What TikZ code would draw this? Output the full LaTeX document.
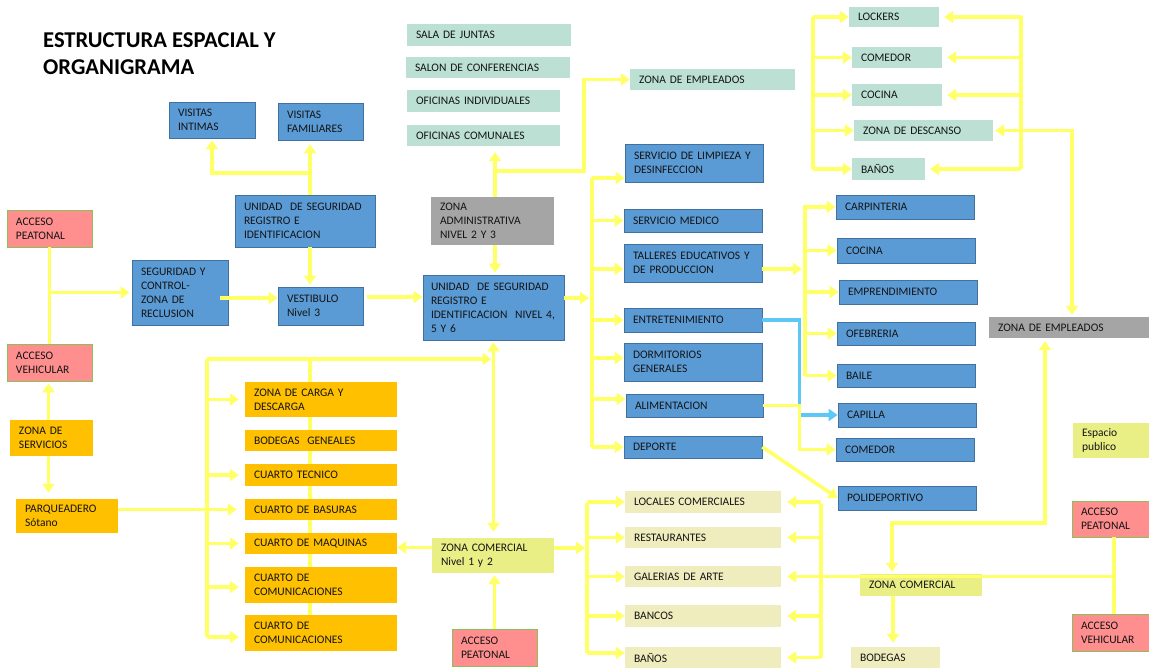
\documentclass[tikz,border=0pt]{standalone}
\usepackage{fontspec}
\setmainfont{Carlito}
\usetikzlibrary{arrows.meta,backgrounds}

\definecolor{blueF}{HTML}{5B9BD5}
\definecolor{blueD}{HTML}{41719C}
\definecolor{mintF}{HTML}{BCE0D4}
\definecolor{grayF}{HTML}{A5A5A5}
\definecolor{pinkF}{HTML}{FF8F8F}
\definecolor{pinkD}{HTML}{8CC05A}
\definecolor{orF}{HTML}{FFC000}
\definecolor{ygF}{HTML}{E9EF85}
\definecolor{beigeF}{HTML}{EFEDBE}
\definecolor{ylwL}{HTML}{FFFF66}
\definecolor{cyanL}{HTML}{5BC8F5}
\definecolor{txt}{HTML}{141414}

\begin{document}
\begin{tikzpicture}[x=1pt,y=-1pt,
    box/.style={rectangle,inner xsep=9pt,inner ysep=0pt,align=left,
      font=\fontsize{11.5}{14}\selectfont,text=txt},
    sz/.style 2 args={minimum width=#1,minimum height=#2,text width=#1-18},
    ylw/.style={draw=ylwL,line width=3.6pt},
    ya/.style={ylw,-{Triangle[length=9pt,width=12pt]},shorten >=2pt},
    yaa/.style={ylw,{Triangle[length=9pt,width=12pt]}-{Triangle[length=9pt,width=12pt]},
      shorten >=2pt,shorten <=2pt},
    ba/.style={draw=cyanL,line width=3.6pt,-{Triangle[length=9pt,width=12pt]}}]

  \useasboundingbox (0,0) rectangle (1149,669);

  \node[font=\fontsize{22.6}{27}\selectfont\bfseries,align=left,anchor=west,
    inner sep=0pt,text=black] (ttl) at (43,54) {ESTRUCTURA ESPACIAL Y\\ORGANIGRAMA};

  % blue boxes
  \begin{scope}[every node/.style={box,fill=blueF,draw=blueD,line width=0.8pt}]
    \node[sz={86}{36}]  (vint)  at (212,120)     {VISITAS\\INTIMAS};
    \node[sz={85}{37}]  (vfam)  at (320.5,121.5) {VISITAS\\FAMILIARES};
    \node[sz={140}{52}] (useg)  at (305,221)     {UNIDAD \ DE SEGURIDAD\\REGISTRO E\\IDENTIFICACION};
    \node[sz={96}{65}]  (segc)  at (180,292.5)   {SEGURIDAD Y\\CONTROL-\\ZONA DE\\RECLUSION};
    \node[sz={85}{38}]  (vest)  at (320.5,306)   {VESTIBULO\\Nivel 3};
    \node[sz={141}{65},inner xsep=8pt,text width=125]
                        (useg2) at (493.5,307.5) {UNIDAD \ DE SEGURIDAD\\REGISTRO E\\IDENTIFICACION \ NIVEL 4,\\5 Y 6};
    \node[sz={138}{38}] (slimp) at (694,163)     {SERVICIO DE LIMPIEZA Y\\DESINFECCION};
    \node[sz={138}{23}] (smed)  at (693,220.5)   {SERVICIO MEDICO};
    \node[sz={138}{38}] (tall)  at (693,263)     {TALLERES EDUCATIVOS Y\\DE PRODUCCION};
    \node[sz={138}{24}] (entr)  at (693,320)     {ENTRETENIMIENTO};
    \node[sz={138}{38}] (dorm)  at (693,362)     {DORMITORIOS\\GENERALES};
    \node[sz={137}{23}] (alim)  at (694.5,405.5) {ALIMENTACION};
    \node[sz={138}{22}] (dep)   at (693,447)     {DEPORTE};
    \node[sz={138}{24}] (carp)  at (905,207)     {CARPINTERIA};
    \node[sz={138}{25}] (coci)  at (906,250.5)   {COCINA};
    \node[sz={138}{24}] (empr)  at (908,292)     {EMPRENDIMIENTO};
    \node[sz={138}{23}] (ofeb)  at (906,333.5)   {OFEBRERIA};
    \node[sz={138}{23}] (bail)  at (906,375.5)   {BAILE};
    \node[sz={138}{24}] (capi)  at (907,415)     {CAPILLA};
    \node[sz={138}{23}] (come)  at (905,449.5)   {COMEDOR};
    \node[sz={138}{24}] (poli)  at (907,498)     {POLIDEPORTIVO};
  \end{scope}

  % mint boxes
  \begin{scope}[every node/.style={box,fill=mintF}]
    \node[sz={164}{22}] (sala)  at (489,35)      {SALA DE JUNTAS};
    \node[sz={164}{21}] (salon) at (488,67.5)    {SALON DE CONFERENCIAS};
    \node[sz={153}{22}] (ofind) at (483.5,101)   {OFICINAS INDIVIDUALES};
    \node[sz={153}{21}] (ofcom) at (483.5,135.5) {OFICINAS COMUNALES};
    \node[sz={165}{21}] (zemp1) at (712.5,79.5)  {ZONA DE EMPLEADOS};
    \node[sz={90}{20}]  (lock)  at (894,17)      {LOCKERS};
    \node[sz={90}{21}]  (comm)  at (897,57.5)    {COMEDOR};
    \node[sz={90}{22}]  (cocm)  at (897,95)      {COCINA};
    \node[sz={139}{21}] (desc)  at (923.5,130.5) {ZONA DE DESCANSO};
    \node[sz={73}{22}]  (banm)  at (888.5,169)   {BAÑOS};
  \end{scope}

  % gray boxes
  \begin{scope}[every node/.style={box,fill=grayF}]
    \node[sz={123}{48}] (zadm)  at (492.5,221)   {ZONA\\ADMINISTRATIVA\\NIVEL 2 Y 3};
    \node[sz={160}{21}] (zemp2) at (1069,327.5)  {ZONA DE EMPLEADOS};
  \end{scope}

  % pink boxes
  \begin{scope}[every node/.style={box,fill=pinkF,draw=pinkD,line width=0.8pt}]
    \node[sz={85}{37}] (ap1) at (49.5,228.5)  {ACCESO\\PEATONAL};
    \node[sz={85}{37}] (av1) at (49.5,362.5)  {ACCESO\\VEHICULAR};
    \node[sz={85}{37}] (ap2) at (494.5,647.5) {ACCESO\\PEATONAL};
    \node[sz={77}{36}] (ap3) at (1110.5,519)  {ACCESO\\PEATONAL};
    \node[sz={77}{37}] (av3) at (1110.5,632.5){ACCESO\\VEHICULAR};
  \end{scope}

  % orange boxes
  \begin{scope}[every node/.style={box,fill=orF}]
    \node[sz={83}{36}]  (zserv) at (51.5,438)  {ZONA DE\\SERVICIOS};
    \node[sz={102}{34}] (parq)  at (67,516)    {PARQUEADERO\\Sótano};
    \node[sz={152}{35}] (carga) at (321,399.5) {ZONA DE CARGA Y\\DESCARGA};
    \node[sz={152}{21}] (bodg)  at (321,440.5) {BODEGAS \ GENEALES};
    \node[sz={152}{22}] (ctec)  at (321,475)   {CUARTO TECNICO};
    \node[sz={152}{21}] (cbas)  at (321,509.5) {CUARTO DE BASURAS};
    \node[sz={152}{21}] (cmaq)  at (321,543.5) {CUARTO DE MAQUINAS};
    \node[sz={152}{36}] (ccom1) at (321,585)   {CUARTO DE\\COMUNICACIONES};
    \node[sz={152}{36}] (ccom2) at (321,633)   {CUARTO DE\\COMUNICACIONES};
  \end{scope}

  % yellow-green and beige boxes
  \begin{scope}[every node/.style={box,fill=ygF}]
    \node[sz={122}{35}] (zcom1) at (493,555.5) {ZONA COMERCIAL\\Nivel 1 y 2};
    \node[sz={122}{22}] (zcom2) at (921,585)   {ZONA COMERCIAL};
    \node[sz={76}{35}]  (espub) at (1111,440.5){Espacio\\publico};
  \end{scope}
  \begin{scope}[every node/.style={box,fill=beigeF}]
    \node[sz={156}{22}] (loc)  at (703,502)     {LOCALES COMERCIALES};
    \node[sz={156}{21}] (rest) at (703,537.5)   {RESTAURANTES};
    \node[sz={156}{21}] (gal)  at (703,576.5)   {GALERIAS DE ARTE};
    \node[sz={156}{22}] (banc) at (703,616)     {BANCOS};
    \node[sz={156}{21}] (banb) at (703,657.5)   {BAÑOS};
    \node[sz={89}{21}]  (bodc) at (895.5,657.5) {BODEGAS};
  \end{scope}

  % bus points
  \coordinate (jv) at (310,173);
  \coordinate (ja) at (495,171);
  \coordinate (b1) at (592,178);
  \coordinate (b2) at (805,205);
  \coordinate (bl) at (813,17);
  \coordinate (br) at (1021,16);
  \coordinate (ob) at (207,359);
  \coordinate (cl) at (587,503);
  \coordinate (cr) at (821,504);

  % level 3
  \draw[ya,shorten >=4pt] ([xshift=5pt]useg.north) -- ([xshift=5pt]useg.north |- vfam.south);
  \draw[ya] (jv) -| (vint.south);
  \draw[ya] ([xshift=5pt]useg.south) -- ([xshift=5pt]useg.south |- vest.north);
  \draw[ylw] (ap1.south) -- (av1.north);
  \draw[ya] (ap1.south |- segc.west) -- (segc.west);
  \draw[ya,shorten >=0pt] ([xshift=-8pt,yshift=-5.5pt]segc.east) -- ([yshift=-5.5pt]segc.east -| vest.west);
  \draw[ya,shorten <=4pt,shorten >=0pt] ([yshift=9pt]vest.east) -- ([yshift=9pt]vest.east -| useg2.west);

  % administracion
  \draw[ya,shorten >=6pt] ([xshift=2.5pt]zadm.north) -- ([xshift=2.5pt]zadm.north |- ofcom.south);
  \draw[ya,shorten >=0pt] (ja) -- ++(89,0) |- (zemp1.west);
  \draw[ya] ([xshift=2.5pt]zadm.south) -- ([xshift=2.5pt]zadm.south |- useg2.north);

  % servicios
  \draw[ya,shorten >=3pt] ([yshift=9.5pt]useg2.east) -- ([yshift=9.5pt]useg2.east -| b1);
  \draw[ylw] (b1) -- (b1 |- dep.west);
  \foreach \n/\s in {slimp/-15,smed/0,tall/-6,entr/0,dorm/4,alim/6.5,dep/0}
    \draw[ya,shorten >=0pt] ([yshift=\s pt]\n.west -| b1) -- ([yshift=\s pt]\n.west);

  % talleres
  \draw[ya,shorten >=3pt] ([yshift=-6pt]tall.east) -- ([yshift=-6pt]tall.east -| b2);
  \draw[ylw] (b2) -- (b2 |- bail.west);
  \foreach \n in {carp,coci,empr,ofeb,bail}
    \draw[ya,shorten >=0pt] (\n.west -| b2) -- (\n.west);
  \draw[ba] (entr.east) -- ++(37,0) |- (capi.west);
  \draw[ya,shorten >=0pt] (alim.east) -- ++(36,0) |- (come.west);
  \draw[ya,shorten >=0pt] (dep.east) -- (poli.west);

  % zona de empleados
  \draw[ylw] (bl) -- (bl |- banm.west);
  \foreach \n in {lock,comm,cocm,desc,banm}
    \draw[ya,shorten >=0pt] (\n.west -| bl) -- (\n.west);
  \draw[ylw] (br) -- (br |- banm.east);
  \foreach \n in {lock,comm,cocm,banm}
    \draw[ya,shorten >=5pt] (\n.east -| br) -- (\n.east);
  \draw[yaa,shorten >=2pt] (desc.east) -| ([xshift=3pt]zemp2.north);
  \draw[yaa,shorten <=3pt] ([xshift=-24pt]zemp2.south) -- ++(0,185) -| ([xshift=-29pt]zcom2.north);
  \draw[ya,shorten >=4pt] ([xshift=-28pt]zcom2.south) -- ([xshift=-28pt]zcom2.south |- bodc.north);

  % comercio
  \draw[ylw] ([xshift=3.5pt]ap3.south) -- ([xshift=3.5pt]av3.north);
  \draw[ya,shorten >=6pt] ([xshift=3.5pt]ap3.south |- gal.east) -- (gal.east);
  \draw[ya,shorten >=2pt] ([yshift=7.5pt]zcom1.east) -- ([yshift=7.5pt]zcom1.east -| cl);
  \draw[ylw] (cl) -- ([yshift=4.5pt]banb.west -| cl);
  \foreach \n/\s in {loc/0,rest/0,gal/0,banc/0,banb/4.5}
    \draw[ya,shorten >=0pt] ([yshift=\s pt]\n.west -| cl) -- ([yshift=\s pt]\n.west);
  \draw[ylw] (cr) -- (cr |- banb.east);
  \foreach \n in {loc,rest,banc,banb}
    \draw[ya,shorten >=6pt] (\n.east -| cr) -- (\n.east);
  \draw[ya,shorten >=0pt] ([yshift=8pt]zcom1.west) -- ([yshift=8pt]zcom1.west -| cmaq.east);
  \draw[yaa,shorten >=6pt] (useg2.south) -- (useg2.south |- zcom1.north);
  \draw[ya] (ap2.north) -- (ap2.north |- zcom1.south);

  % servicios generales
  \draw[ya] (ob) -- (ob -| useg2.south);
  \draw[ylw] (ob) -- ([yshift=-4pt]ccom2.west -| ob);
  \foreach \n/\s in {carga/0,ctec/0,cmaq/0,ccom1/-2,ccom2/-4}
    \draw[ya,shorten >=6pt] ([yshift=\s pt]\n.west -| ob) -- ([yshift=\s pt]\n.west);
  \draw[ya,shorten >=8pt] (parq.east |- cbas.west) -- (cbas.west);
  \draw[ya] ([xshift=-3pt]zserv.north) -- ([xshift=-3pt]zserv.north |- av1.south);
  \draw[ya,shorten >=6pt] ([xshift=-3pt]zserv.south) -- ([xshift=-3pt]zserv.south |- parq.north);
  \begin{pgfonlayer}{background}
    \draw[ylw] ([xshift=-11pt]carga.north |- ob) -- ([xshift=-11pt]ccom2.north);
  \end{pgfonlayer}

\end{tikzpicture}
\end{document}
